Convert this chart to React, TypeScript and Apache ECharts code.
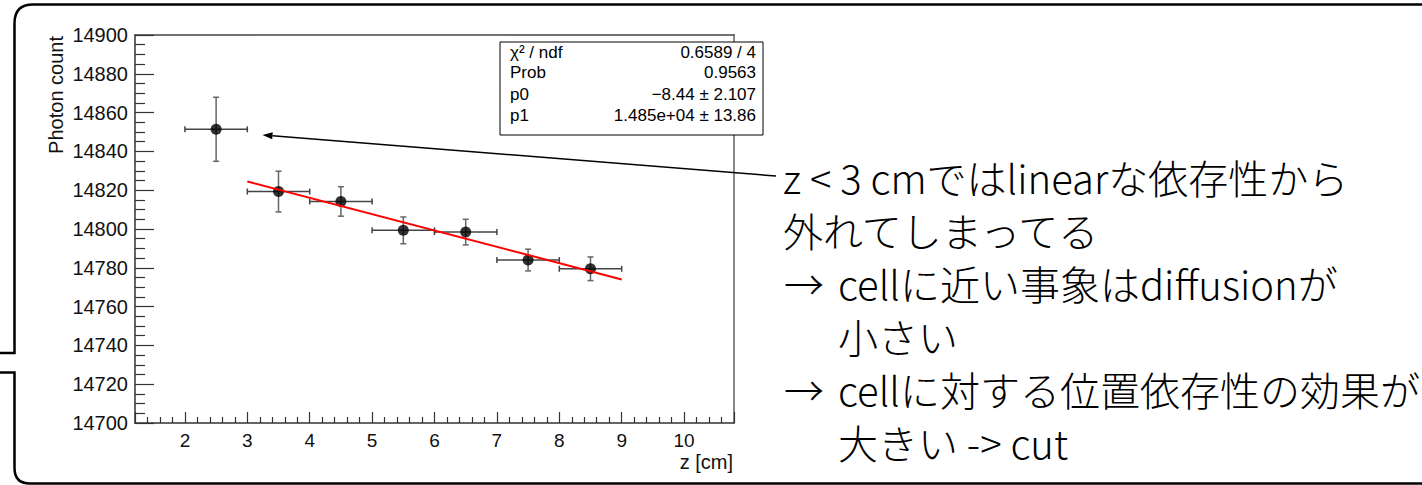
import React, { useEffect, useRef } from "react";
import * as echarts from "echarts";

// ---- data ----
const zCenters = [2.5, 3.5, 4.5, 5.5, 6.5, 7.5, 8.5];
const photonCounts = [14851.4, 14819.3, 14814.2, 14799.3, 14798.4, 14784.0, 14779.5];
const zErrors = [0.5, 0.5, 0.5, 0.5, 0.5, 0.5, 0.5];
const countErrors = [16.5, 10.5, 7.6, 6.9, 6.6, 5.6, 6.1];

const fitZ = [3, 9];
const fitCounts = [14824.5, 14774.0];

const xMin = 1.2;
const xMax = 10.8;
const yMin = 14700;
const yMax = 14900;
const yStep = 20;

const statsLabels = ["χ² / ndf", "Prob", "p0", "p1"];
const statsValues = ["0.6589 / 4", "0.9563", "−8.44 ± 2.107", "1.485e+04 ± 13.86"];

const noteLines = [
  { arrow: false, text: "z < 3 cmではlinearな依存性から" },
  { arrow: false, text: "外れてしまってる" },
  { arrow: true, text: "cellに近い事象はdiffusionが" },
  { arrow: false, text: "小さい", indent: true },
  { arrow: true, text: "cellに対する位置依存性の効果が" },
  { arrow: false, text: "大きい -> cut", indent: true },
];

const LATIN = "Liberation Sans";
const JP = "Noto Sans CJK JP";

export default function App() {
  const ref = useRef<HTMLDivElement>(null);

  useEffect(() => {
    if (!ref.current) return;
    echarts.graphic.registerShape(
      "callout",
      echarts.graphic.extendPath(
        "M 1440 4.5 L 33 4.5 Q 14.5 4.5 14.5 23 L 14.5 353 L -5 353 M -5 372.5 L 14.5 372.5 L 14.5 468 Q 14.5 483.5 30 483.5 L 1440 483.5",
        {}
      )
    );
    const chart = echarts.init(ref.current, null, { renderer: "svg" });

    const errData = zCenters.map((z, i) => [z, photonCounts[i], zErrors[i], countErrors[i]]);
    const pts = zCenters.map((z, i) => [z, photonCounts[i]]);
    const fit = fitZ.map((z, i) => [z, fitCounts[i]]);

    // annotation arrow geometry
    const tail = [776, 176];
    const tip = [262.5, 135];
    const dx = tip[0] - tail[0];
    const dy = tip[1] - tail[1];
    const len = Math.sqrt(dx * dx + dy * dy);
    const ux = dx / len;
    const uy = dy / len;
    const bx = tip[0] - ux * 10;
    const by = tip[1] - uy * 10;
    const px = -uy * 3.5;
    const py = ux * 3.5;

    const graphics: any[] = [
      {
        type: "callout",
        x: 0,
        y: 0,
        silent: true,
        style: { fill: "none", stroke: "#000", lineWidth: 2.5 },
      },
      {
        type: "rect",
        shape: { x: 500, y: 42, width: 263, height: 93 },
        style: { fill: "#fff", stroke: "#000", lineWidth: 1 },
        z: 10,
      },
      {
        type: "text",
        x: 56,
        y: 36,
        rotation: Math.PI / 2,
        style: {
          text: "Photon count",
          align: "right",
          verticalAlign: "middle",
          fontSize: 20,
          fontFamily: LATIN,
          fill: "#111",
        },
      },
      {
        type: "text",
        x: 733,
        y: 462,
        style: {
          text: "z [cm]",
          align: "right",
          verticalAlign: "middle",
          fontSize: 20,
          fontFamily: LATIN,
          fill: "#111",
        },
      },
      {
        type: "line",
        shape: { x1: tail[0], y1: tail[1], x2: bx, y2: by },
        style: { stroke: "#000", lineWidth: 1.5 },
        z: 12,
      },
      {
        type: "polygon",
        shape: {
          points: [
            [tip[0], tip[1]],
            [bx + px, by + py],
            [bx - px, by - py],
          ],
        },
        style: { fill: "#000" },
        z: 12,
      },
    ];

    const rowY = [52, 72.5, 94, 115];
    statsLabels.forEach((lab, i) => {
      graphics.push({
        type: "text",
        x: 510,
        y: rowY[i],
        z: 11,
        style: { text: lab, align: "left", verticalAlign: "middle", fontSize: 17, fontFamily: LATIN, fill: "#000" },
      });
      graphics.push({
        type: "text",
        x: 756,
        y: rowY[i],
        z: 11,
        style: { text: statsValues[i], align: "right", verticalAlign: "middle", fontSize: 17, fontFamily: LATIN, fill: "#000" },
      });
    });

    noteLines.forEach((ln, i) => {
      const y = 177 + i * 53;
      if (ln.arrow) {
        graphics.push({
          type: "text",
          x: 784,
          y,
          style: { text: "→", align: "left", verticalAlign: "middle", fontSize: 40, fontWeight: 300, fontFamily: JP, fill: "#000" },
        });
      }
      graphics.push({
        type: "text",
        x: ln.arrow || ln.indent ? 838 : 783,
        y,
        style: { text: ln.text, align: "left", verticalAlign: "middle", fontSize: 40, fontWeight: 300, fontFamily: JP, fill: "#000" },
      });
    });

    const axisColor = "#333";

    chart.setOption({
      animation: false,
      backgroundColor: "#fff",
      grid: { left: 135, top: 35, width: 599, height: 388, containLabel: false, outerBoundsMode: "none" },
      xAxis: [
        {
          type: "value",
          min: xMin,
          max: xMax,
          splitNumber: 10,
          position: "bottom",
          axisLine: { show: true, onZero: false, lineStyle: { color: axisColor, width: 1.5 } },
          axisTick: { show: true, inside: true, length: 11, lineStyle: { color: axisColor, width: 1.2 } },
          minorTick: { show: true, splitNumber: 5, length: 6, lineStyle: { color: axisColor, width: 1.2 } },
          axisLabel: {
            color: "#111",
            fontSize: 19,
            fontFamily: LATIN,
            margin: 8,
            formatter: (v: number) => (Math.abs(v - Math.round(v)) < 1e-6 ? String(Math.round(v)) : ""),
          },
          splitLine: { show: false },
          minorSplitLine: { show: false },
        },
        {
          type: "value",
          min: xMin,
          max: xMax,
          position: "top",
          axisLine: { show: true, onZero: false, lineStyle: { color: "#444", width: 1.5 } },
          axisTick: { show: false },
          axisLabel: { show: false },
          splitLine: { show: false },
        },
      ],
      yAxis: [
        {
          type: "value",
          min: yMin,
          max: yMax,
          interval: yStep,
          position: "left",
          axisLine: { show: true, onZero: false, lineStyle: { color: axisColor, width: 1.5 } },
          axisTick: { show: true, inside: true, length: 19, lineStyle: { color: axisColor, width: 1.2 } },
          minorTick: { show: true, splitNumber: 4, length: 10, lineStyle: { color: axisColor, width: 1.2 } },
          axisLabel: {
            color: "#111",
            fontSize: 20,
            fontFamily: LATIN,
            margin: 7,
            formatter: (v: number) => String(Math.round(v)),
          },
          splitLine: { show: false },
          minorSplitLine: { show: false },
        },
        {
          type: "value",
          min: yMin,
          max: yMax,
          position: "right",
          axisLine: { show: true, onZero: false, lineStyle: { color: "#888", width: 2 } },
          axisTick: { show: false },
          axisLabel: { show: false },
          splitLine: { show: false },
        },
      ],
      series: [
        {
          type: "custom",
          xAxisIndex: 0,
          yAxisIndex: 0,
          data: errData,
          encode: { x: 0, y: 1 },
          z: 2,
          renderItem: (params: any, api: any) => {
            const z = api.value(0);
            const v = api.value(1);
            const ze = api.value(2);
            const ve = api.value(3);
            const left = api.coord([z - ze, v]);
            const right = api.coord([z + ze, v]);
            const top = api.coord([z, v + ve]);
            const bot = api.coord([z, v - ve]);
            const c = 3;
            const hs = { stroke: "#444", lineWidth: 1.5 };
            const vs = { stroke: "#666", lineWidth: 1.5 };
            return {
              type: "group",
              children: [
                { type: "line", shape: { x1: left[0], y1: left[1], x2: right[0], y2: right[1] }, style: hs },
                { type: "line", shape: { x1: left[0], y1: left[1] - c, x2: left[0], y2: left[1] + c }, style: hs },
                { type: "line", shape: { x1: right[0], y1: right[1] - c, x2: right[0], y2: right[1] + c }, style: hs },
                { type: "line", shape: { x1: top[0], y1: top[1], x2: bot[0], y2: bot[1] }, style: vs },
                { type: "line", shape: { x1: top[0] - c, y1: top[1], x2: top[0] + c, y2: top[1] }, style: vs },
                { type: "line", shape: { x1: bot[0] - c, y1: bot[1], x2: bot[0] + c, y2: bot[1] }, style: vs },
              ],
            };
          },
        },
        {
          type: "scatter",
          data: pts,
          symbol: "circle",
          symbolSize: 11,
          itemStyle: { color: "#000" },
          z: 3,
        },
        {
          type: "line",
          data: fit,
          showSymbol: false,
          symbol: "none",
          lineStyle: { color: "#ff0000", width: 2 },
          z: 4,
        },
      ],
      graphic: graphics,
    });

    return () => chart.dispose();
  }, []);

  return (
    <div
      ref={ref}
      style={{ position: "fixed", left: 0, top: 0, width: 1422, height: 485, background: "#fff" }}
    />
  );
}
